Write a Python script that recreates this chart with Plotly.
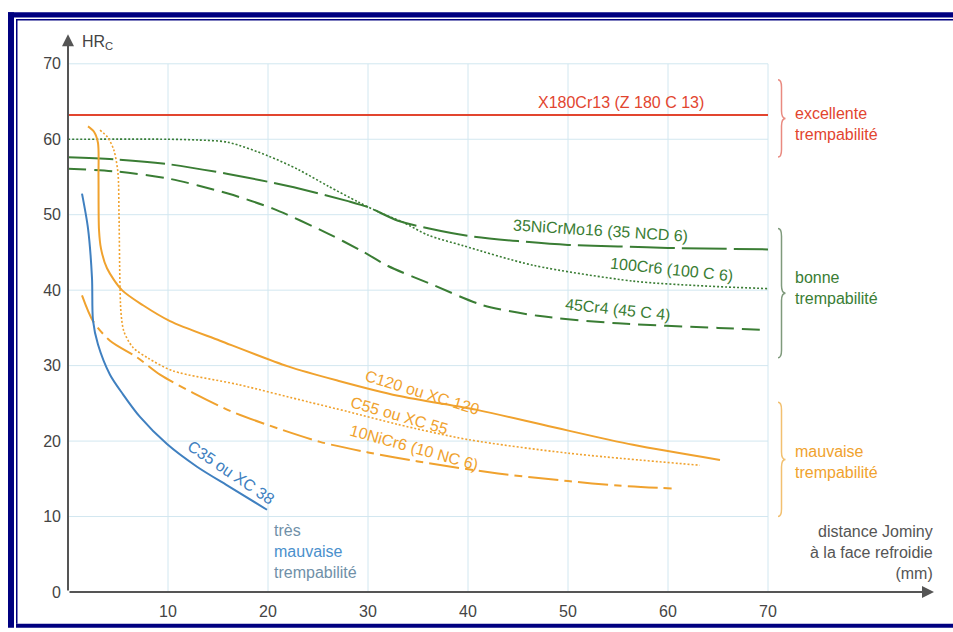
import plotly.graph_objects as go

# Jominy curves: distance (mm) and hardness (HRC)
x180_x = [0, 70]
x180_y = [63.2, 63.2]

ni35_x = [0, 5, 10, 16, 22, 28, 30, 33, 36, 40, 45, 50, 55, 60, 70]
ni35_y = [57.6, 57.3, 56.7, 55.4, 53.8, 51.8, 51.0, 49.2, 48.2, 47.2, 46.5, 46.0, 45.8, 45.6, 45.4]

cr100_x = [0, 10, 13, 16, 20, 23, 26, 29, 31, 33.5, 36, 39.5, 46.5, 56.5, 63, 70]
cr100_y = [60, 60, 59.9, 59.6, 57.8, 56.0, 53.8, 51.7, 50.4, 49.0, 47.3, 45.9, 43.3, 41.2, 40.6, 40.2]

cr45_x = [0, 5, 10, 16, 20.5, 26, 29.5, 32, 36.5, 41.5, 47, 55, 65, 70]
cr45_y = [56.1, 55.7, 54.8, 52.8, 50.8, 47.5, 45.1, 43.2, 40.7, 38.0, 36.6, 35.6, 35.0, 34.7]

c120_x = [2.0, 2.6, 3.0, 3.05, 3.1, 3.3, 3.9, 5.4, 7.5, 10.2, 15.2, 22, 27, 33, 41, 48, 56.5, 65.2]
c120_y = [61.7, 61.0, 59.5, 55.0, 48.0, 45.5, 42.9, 40.0, 38.0, 35.9, 33.3, 29.9, 28.0, 26.0, 24.1, 22.0, 19.5, 17.5]

c55_x = [3.2, 4.0, 4.6, 5.0, 5.1, 5.3, 5.6, 6.5, 8, 10.5, 17, 24, 28, 33, 40, 50, 63.2]
c55_y = [61.2, 60.2, 58.5, 55.5, 50.0, 37.0, 34.5, 32.4, 31.0, 29.3, 27.5, 25.2, 23.9, 22.2, 20.2, 18.4, 16.8]

ni10_x = [1.4, 2.5, 4.2, 6.9, 9.2, 12.5, 16.2, 19.2, 25.2, 30, 35, 43, 50, 55, 60.7]
ni10_y = [39.3, 35.9, 33.3, 31.1, 28.8, 26.4, 24.0, 22.5, 19.9, 18.5, 17.3, 15.7, 14.7, 14.1, 13.7]

c35_x = [1.4, 2.0, 2.4, 2.5, 3.0, 4.2, 5.5, 7.2, 9.9, 12.9, 16.2, 19.9]
c35_y = [52.8, 48.2, 41.6, 36.0, 32.8, 28.8, 26.2, 23.2, 19.6, 16.6, 13.9, 10.9]

x_ticks = [10, 20, 30, 40, 50, 60, 70]
y_ticks = [0, 10, 20, 30, 40, 50, 60, 70]

RED = "#e2452f"
GREEN = "#3a7d34"
ORANGE = "#f0a22e"
BLUE = "#4080c0"
FONT = "Liberation Sans, Arial"

W, H = 953, 632
ML, MR, MT, MB = 68, 15, 34, 36
X_MAX = 87.0
Y_MAX = (H - MT - MB) / 7.6


def px_x(px):
    return (px - ML) / (W - ML - MR)


def px_y(py):
    return (H - MB - py) / (H - MT - MB)


fig = go.Figure()


def curve(x, y, color, dash, width=2, shape="spline"):
    fig.add_trace(go.Scatter(x=x, y=y, mode="lines", hoverinfo="skip",
                             line=dict(color=color, width=width, dash=dash,
                                       shape=shape, smoothing=0.8)))


curve(x180_x, x180_y, RED, "solid", shape="linear")
curve(cr100_x, cr100_y, GREEN, "2px,2px", width=1.6)
curve(ni35_x, ni35_y, GREEN, "45px,7px")
curve(cr45_x, cr45_y, GREEN, "18px,8px")
curve(c120_x, c120_y, ORANGE, "solid")
curve(c55_x, c55_y, ORANGE, "2px,2px", width=1.6)
curve(ni10_x, ni10_y, ORANGE, "30px,6px,8px,6px")
curve(c35_x, c35_y, BLUE, "solid")

# grid limited to the 0-70 box
for v in x_ticks:
    fig.add_shape(type="line", x0=v, x1=v, y0=0, y1=70, layer="below",
                  line=dict(color="#d2e7f0", width=1))
for v in y_ticks[1:]:
    fig.add_shape(type="line", x0=0, x1=70, y0=v, y1=v, layer="below",
                  line=dict(color="#d2e7f0", width=1))


def brace(ptop, pbot, color):
    x0, xm, xt = (778 - ML) / 10, (781.5 - ML) / 10, (785.5 - ML) / 10
    yt, yb = (596 - ptop) / 7.6, (596 - pbot) / 7.6
    ym = (yt + yb) / 2
    r = 1.0
    path = (f"M {x0},{yt} Q {xm},{yt} {xm},{yt - r} L {xm},{ym + r} "
            f"Q {xm},{ym} {xt},{ym} Q {xm},{ym} {xm},{ym - r} "
            f"L {xm},{yb + r} Q {xm},{yb} {x0},{yb}")
    fig.add_shape(type="path", path=path, line=dict(color=color, width=1.5))


brace(80, 158, "#e98a80")
brace(230, 360, "#7f9a7c")
brace(405, 520, "#f2c070")

# frame (cut off on the right in the original)
NAVY = "#000080"
for x0, x1, y0, y1 in [(8, 14, 12, 632), (8, W, 12, 17.5), (16, 17.5, 19, 628),
                       (16, W, 19, 20.5), (16, W, 628, 632)]:
    fig.add_shape(type="rect", xref="paper", yref="paper",
                  x0=px_x(x0), x1=px_x(x1), y0=px_y(y0), y1=px_y(y1),
                  line=dict(width=0), fillcolor=NAVY)
fig.add_shape(type="rect", xref="paper", yref="paper",
              x0=px_x(940), x1=px_x(W + 5), y0=px_y(22), y1=px_y(626),
              line=dict(width=0), fillcolor="white")

# axes with arrows
fig.add_annotation(x=86.6, y=0, ax=0, ay=0, axref="x", ayref="y", text="",
                   showarrow=True, arrowhead=2, arrowsize=1.2, arrowwidth=2,
                   arrowcolor="#555555")
fig.add_annotation(x=0, y=73.9, ax=0, ay=0, axref="x", ayref="y", text="",
                   showarrow=True, arrowhead=2, arrowsize=1.2, arrowwidth=2,
                   arrowcolor="#555555")


def label(x, y, text, color, angle=0, xanchor="center", align="center", size=16):
    fig.add_annotation(x=x, y=y, text=text, showarrow=False, textangle=angle,
                       xanchor=xanchor, align=align,
                       font=dict(family=FONT, size=size, color=color))


label(1.2, 72.8, "HR<sub>C</sub>", "#444444", xanchor="left", size=16)
label(55.3, 64.9, "X180Cr13 (Z 180 C 13)", RED)
label(53.2, 47.9, "35NiCrMo16 (35 NCD 6)", GREEN, angle=3.6)
label(60.4, 42.8, "100Cr6 (100 C 6)", GREEN, angle=6)
label(55.0, 37.5, "45Cr4 (45 C 4)", GREEN, angle=6)
label(35.4, 26.4, "C120 ou XC 120", ORANGE, angle=17)
label(33.1, 23.4, "C55 ou XC 55", ORANGE, angle=16)
label(34.6, 19.2, "10NiCr6 (10 NC 6)", ORANGE, angle=15.5)
label(16.3, 15.9, "C35 ou XC 38", BLUE, angle=34)

label(72.5, 62.0, "excellente<br>trempabilité", RED, xanchor="left", align="left")
label(72.5, 40.3, "bonne<br>trempabilité", GREEN, xanchor="left", align="left")
label(72.5, 17.2, "mauvaise<br>trempabilité", ORANGE, xanchor="left", align="left")
label(20.4, 5.4, "<span style='color:#7090a8'>très</span><br>mauvaise<br>"
      "<span style='color:#7090a8'>trempabilité</span>", "#4a90cc",
      xanchor="left", align="left")
label(86.7, 5.3, "distance Jominy<br>à la face refroidie<br>(mm)", "#555555",
      xanchor="right", align="right")

fig.update_layout(
    width=W, height=H,
    margin=dict(l=ML, r=MR, t=MT, b=MB),
    paper_bgcolor="white", plot_bgcolor="white",
    showlegend=False,
    xaxis=dict(range=[0, X_MAX], tickvals=x_ticks, showgrid=False, zeroline=False,
               showline=False, ticks="", ticklabelstandoff=8,
               tickfont=dict(family=FONT, size=16, color="#444444")),
    yaxis=dict(range=[0, Y_MAX], tickvals=y_ticks, showgrid=False, zeroline=False,
               showline=False, ticks="", ticklabelstandoff=6,
               tickfont=dict(family=FONT, size=16, color="#444444")),
)

# page body margin would shift the figure by 8px
fig.write_html("out.html", config={"displayModeBar": False},
               post_script="document.body.style.margin='0';"
                           "document.body.style.overflow='hidden';")
